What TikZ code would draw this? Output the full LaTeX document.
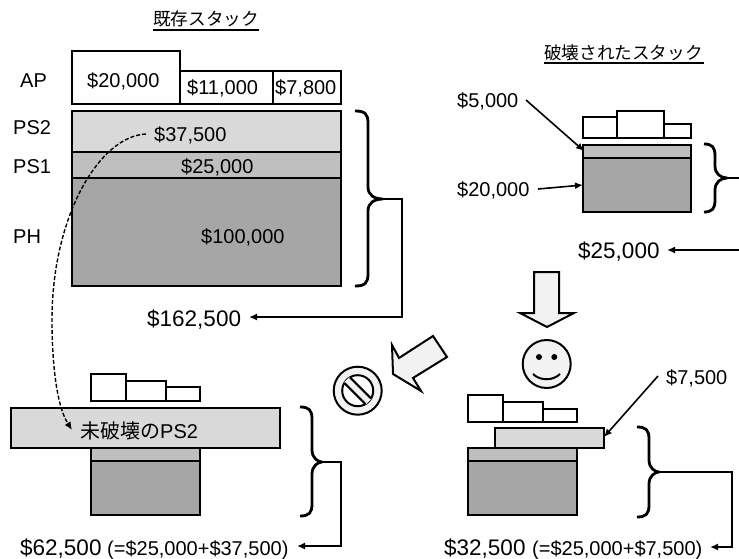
\documentclass[tikz,border=0pt]{standalone}
\usepackage{fontspec}
\setmainfont{Liberation Sans}
\newfontfamily\cjk{Noto Sans CJK JP}
\usetikzlibrary{arrows.meta}
\definecolor{lightps}{HTML}{D9D9D9}
\definecolor{midps}{HTML}{BFBFBF}
\definecolor{darkps}{HTML}{A6A6A6}
\definecolor{pale}{HTML}{F2F2F2}
\newcommand{\mybrace}[6]{% x0, xm, tipx, top, tipy, bot
  \draw[bracestyle] (#1,#4) .. controls ({#2-3},#4) and (#2,{#4+3}) .. (#2,{#4+12})
    -- (#2,{#5-12}) .. controls (#2,{#5-4}) and ({#2+6},#5) .. (#3,#5)
    .. controls ({#2+6},#5) and (#2,{#5+4}) .. (#2,{#5+12})
    -- (#2,{#6-12}) .. controls (#2,{#6-3}) and ({#2-3},#6) .. (#1,#6);}
\tikzset{
  box/.style={draw=black,line width=1.8pt,fill=#1},
  box/.default=white,
  lab/.style={anchor=base west,inner sep=0pt,font=\fontsize{20}{22}\selectfont},
  big/.style={anchor=base west,inner sep=0pt,font=\fontsize{22.5}{26}\selectfont},
  ttl/.style={anchor=base west,inner sep=0pt,font=\cjk\fontsize{17.6}{20}\selectfont},
  bracestyle/.style={draw=black,line width=2.8pt,line join=round},
  conn/.style={draw=black,line width=1.6pt,line join=miter},
  arr/.style={conn,-{Latex[length=8pt,width=7pt]}},
  block/.style={draw=black,line width=2pt,fill=pale,line join=miter},
}
\begin{document}
\begin{tikzpicture}[x=1pt,y=-1pt]
\useasboundingbox (0,0) rectangle (739,559);

% Existing stack
\node[ttl] (t1) at (153,26) {既存スタック};
\draw[line width=1.2pt] (153,30) -- (259,30);
\draw[box] (72,51) rectangle (180,104);
\draw[box] (180,71) rectangle (273,104);
\draw[box] (273,71) rectangle (341,104);
\draw[box=lightps] (72,111) rectangle (341,152);
\draw[box=midps] (72,152) rectangle (341,178);
\draw[box=darkps] (72,178) rectangle (341,286);
\node[lab] (ap) at (20,88) {AP};
\node[lab] (ps2) at (13,135) {PS2};
\node[lab] (ps1) at (13,174) {PS1};
\node[lab] (ph) at (13,243) {PH};
\node[lab] (a1) at (87,88) {\$20,000};
\node[lab] (a2) at (187,95) {\$11,000};
\node[lab] (a3) at (275,95) {\$7,800};
\node[lab] (v1) at (154,142) {\$37,500};
\node[lab] (v2) at (181,174) {\$25,000};
\node[lab] (v3) at (201,243) {\$100,000};
\mybrace{355}{368}{383}{111}{199}{286}
\coordinate (b1) at (383,199);
\coordinate (b1c) at (402,199);
\coordinate (b1d) at (402,317);
\node[big] (s1) at (147,326) {\$162,500};
\coordinate (s1e) at (249,317);
\draw[arr] (b1) -- (b1c) -- (b1d) -- (s1e);

% Destroyed stack
\node[ttl] (t2) at (544,60) {破壊されたスタック};
\draw[line width=1.2pt] (544,63) -- (704,63);
\draw[box] (583,117) rectangle (617,138);
\draw[box] (617,111) rectangle (664,138);
\draw[box] (664,124) rectangle (691,138);
\draw[box=midps] (583,145) rectangle (691,158);
\draw[box=darkps] (583,158) rectangle (691,212);
\node[lab] (d1) at (457,108) {\$5,000};
\node[lab] (d2) at (457,196) {\$20,000};
\coordinate (d1s) at (526,100);
\coordinate (d1e) at (584,151);
\coordinate (d2s) at (538,189);
\coordinate (d2e) at (583,185);
\draw[arr] (d1s) -- (d1e);
\draw[arr] (d2s) -- (d2e);
\mybrace{704}{715}{727}{144}{178}{212}
\coordinate (b2) at (727,178);
\coordinate (b2e) at (739,178);
\draw[conn] (b2) -- (b2e);
\node[big] (s2) at (578,258) {\$25,000};
\coordinate (s2s) at (739,250);
\coordinate (s2e) at (667,250);
\draw[arr] (s2s) -- (s2e);

% Block arrows
\draw[block] (534,272) -- (559,272) -- (559,313) -- (574,313) -- (547,327) -- (520,313) -- (534,313) -- cycle;
\draw[block] (433,336) -- (447,357) -- (413,378) -- (421,391) -- (393,374) -- (392,345) -- (399,358) -- cycle;

% Smiley
\draw[block] (546.7,364) circle (24);
\fill (539,357) circle (3);
\fill (554.3,357) circle (3);
\draw[line width=2pt] (533,374) .. controls (540,381) and (553,381) .. (560,374);

% Prohibited sign
\draw[block] (357.7,390.7) circle (24);
\draw[draw=black,line width=2pt,fill=white] (357.7,390.7) circle (15.5);
\begin{scope}[shift={(357.7,390.7)},rotate=-45]
\fill[pale] (-15.5,-4) rectangle (15.5,4);
\draw[line width=2pt] (-15,-4) -- (15,-4) (-15,4) -- (15,4);
\end{scope}

% Bottom-left stack
\draw[box] (91,374) rectangle (126,401);
\draw[box] (126,381) rectangle (166,401);
\draw[box] (166,387) rectangle (200,401);
\draw[box=midps] (91,448) rectangle (200,461);
\draw[box=darkps] (91,461) rectangle (200,515);
\draw[box=lightps] (11,408) rectangle (280,448);
\node[lab] (ups) at (80,438) {{\cjk 未破壊の}PS2};
\mybrace{300}{312}{322}{407}{462}{516}
\coordinate (b3) at (322,462);
\coordinate (b3c) at (341,462);
\coordinate (b3d) at (341,546);
\node[big] (s3) at (20,555) {\$62,500};
\node[lab] (s3b) at (107,555) {(=\$25,000+\$37,500)};
\coordinate (s3e) at (297,546);
\draw[arr] (b3) -- (b3c) -- (b3d) -- (s3e);

% Bottom-right stack
\draw[box] (468,395) rectangle (503,422);
\draw[box] (503,402) rectangle (543,422);
\draw[box] (543,409) rectangle (577,422);
\draw[box=midps] (468,448) rectangle (577,461);
\draw[box=darkps] (468,461) rectangle (577,515);
\draw[box=lightps] (495,428) rectangle (604,448);
\node[lab] (r1) at (666,384) {\$7,500};
\coordinate (r1s) at (658,376);
\coordinate (r1e) at (604,437);
\draw[arr] (r1s) -- (r1e);
\mybrace{637}{649}{659}{427}{472}{517}
\coordinate (b4) at (659,472);
\coordinate (b4c) at (732,472);
\coordinate (b4d) at (732,547);
\node[big] (s4) at (444,555) {\$32,500};
\node[lab] (s4b) at (532,555) {(=\$25,000+\$7,500)};
\coordinate (s4e) at (710,547);
\draw[arr] (b4) -- (b4c) -- (b4d) -- (s4e);

% Dashed curve
\coordinate (c0) at (146,134);
\coordinate (c1) at (72,430);
\draw[line width=1.4pt,dash pattern=on 4pt off 2pt,-{Latex[length=8pt,width=7pt]}] (c0) .. controls (100,136) and (52,215) .. (52,320) .. controls (52,360) and (56,405) .. (c1);
\end{tikzpicture}
\end{document}
